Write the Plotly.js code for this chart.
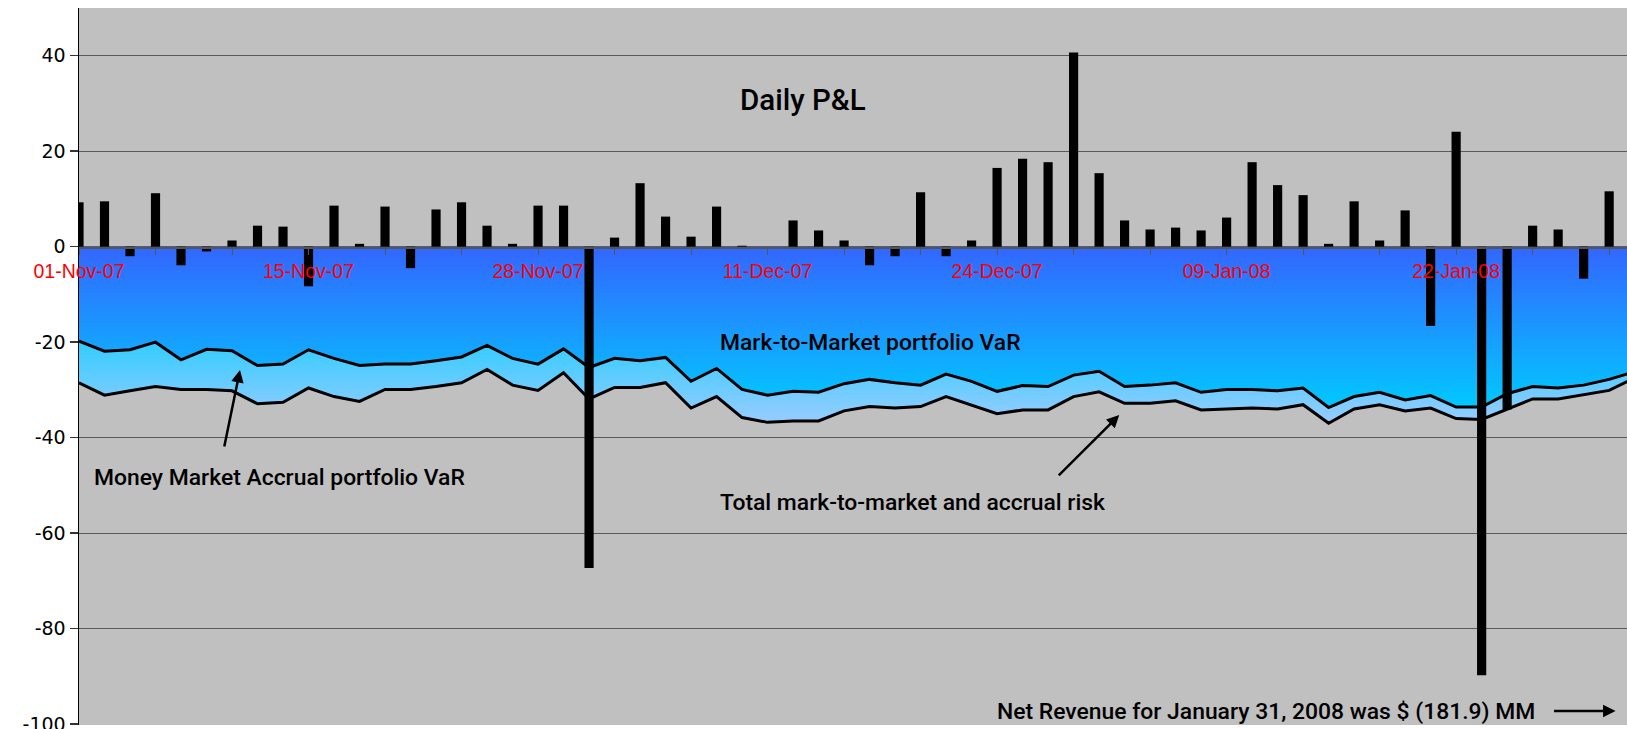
<!DOCTYPE html>
<html><head><meta charset="utf-8">
<script src="https://cdn.plot.ly/plotly-3.0.1.min.js"></script>
<style>html,body{margin:0;padding:0;background:#fff;overflow:hidden;} #chart{width:1627px;height:729px;}</style>
</head><body><div id="chart"></div>
<script>
const dates = [
 '01-Nov-07','02-Nov-07','05-Nov-07','06-Nov-07','07-Nov-07','08-Nov-07','09-Nov-07','13-Nov-07','14-Nov-07','15-Nov-07',
 '16-Nov-07','19-Nov-07','20-Nov-07','21-Nov-07','22-Nov-07','23-Nov-07','26-Nov-07','27-Nov-07','28-Nov-07','29-Nov-07',
 '30-Nov-07','03-Dec-07','04-Dec-07','05-Dec-07','06-Dec-07','07-Dec-07','10-Dec-07','11-Dec-07','12-Dec-07','13-Dec-07',
 '14-Dec-07','17-Dec-07','18-Dec-07','19-Dec-07','20-Dec-07','21-Dec-07','24-Dec-07','26-Dec-07','27-Dec-07','28-Dec-07',
 '02-Jan-08','03-Jan-08','04-Jan-08','07-Jan-08','08-Jan-08','09-Jan-08','10-Jan-08','11-Jan-08','14-Jan-08','15-Jan-08',
 '16-Jan-08','17-Jan-08','18-Jan-08','21-Jan-08','22-Jan-08','23-Jan-08','24-Jan-08','25-Jan-08','28-Jan-08','29-Jan-08',
 '30-Jan-08','31-Jan-08'
];
const dailyPL = [
 9.3, 9.5, -2.0, 11.2, -3.9, -1.0, 1.3, 4.4, 4.2, -8.3,
 8.6, 0.6, 8.4, -4.5, 7.8, 9.3, 4.4, 0.6, 8.6, 8.6,
 -67.3, 1.9, 13.3, 6.3, 2.1, 8.4, 0.2, 0, 5.5, 3.4,
 1.3, -3.9, -2.0, 11.4, -2.0, 1.3, 16.5, 18.4, 17.7, 40.7,
 15.4, 5.5, 3.6, 4.0, 3.4, 6.1, 17.7, 12.9, 10.8, 0.6,
 9.5, 1.3, 7.6, -16.6, 24.1, -89.8, -34.1, 4.4, 3.6, -6.7,
 11.6, -181.9
];
const mtmVaR = [
 -19.8, -21.9, -21.6, -20.0, -23.7, -21.5, -21.8, -24.9, -24.6, -21.6,
 -23.4, -24.9, -24.6, -24.6, -23.9, -23.1, -20.7, -23.4, -24.6, -21.4,
 -25.3, -23.4, -23.9, -23.2, -28.2, -25.5, -29.9, -31.1, -30.3, -30.5,
 -28.7, -27.8, -28.5, -29.0, -26.7, -28.2, -30.3, -29.1, -29.3, -26.9,
 -26.1, -29.3, -29.0, -28.5, -30.5, -29.9, -29.9, -30.2, -29.6, -33.7,
 -31.4, -30.5, -32.1, -31.2, -33.6, -33.6, -30.8, -29.3, -29.6, -29.0,
 -27.8, -26.2
];
const totalVaR = [
 -28.5, -31.1, -30.2, -29.3, -29.9, -29.9, -30.2, -32.9, -32.6, -29.6,
 -31.4, -32.4, -29.9, -29.9, -29.3, -28.5, -25.7, -29.0, -30.1, -26.4,
 -31.9, -29.5, -29.5, -28.5, -33.8, -31.4, -35.8, -36.8, -36.5, -36.5,
 -34.4, -33.5, -33.8, -33.5, -31.4, -33.2, -35.0, -34.2, -34.2, -31.4,
 -30.4, -32.8, -32.8, -32.3, -34.2, -34.0, -33.8, -34.0, -33.1, -37.0,
 -34.0, -33.1, -34.4, -33.8, -36.0, -36.2, -34.0, -31.9, -31.9, -31.0,
 -30.1, -27.5
];
const tickDates = ['01-Nov-07','06-Nov-07','09-Nov-07','15-Nov-07','20-Nov-07','23-Nov-07','28-Nov-07','03-Dec-07','06-Dec-07','11-Dec-07','14-Dec-07','19-Dec-07','24-Dec-07','28-Dec-07','04-Jan-08','09-Jan-08','14-Jan-08','17-Jan-08','22-Jan-08','25-Jan-08','30-Jan-08'];
const tickLabels = ['01-Nov-07','','','15-Nov-07','','','28-Nov-07','','','11-Dec-07','','','24-Dec-07','','','09-Jan-08','','','22-Jan-08','',''];
const yTickVals = [-100, -80, -60, -40, -20, 0, 20, 40];
const yTickText = ['-100', '-80', '-60', '-40', '-20', '0', '20', '40'];

const annFam = 'Roboto, Liberation Sans, Arial, sans-serif';
const annFont = {family:annFam, size:22.9, color:'#000', weight:500};

const traces = [
 {x:dates, y:mtmVaR, type:'scatter', mode:'lines', line:{color:'#000', width:3},
  fill:'tozeroy', fillgradient:{type:'vertical', start:-35, stop:0, colorscale:[[0,'#00CCFF'],[1,'#3366FF']]},
  hoverinfo:'skip', name:'Mark-to-Market portfolio VaR'},
 {x:dates, y:totalVaR, type:'scatter', mode:'lines', line:{color:'#000', width:3},
  fill:'tonexty', fillgradient:{type:'vertical', start:-37, stop:-20, colorscale:[[0,'#99CCFF'],[1,'#33CCFF']]},
  hoverinfo:'skip', name:'Total mark-to-market and accrual risk'},
 {x:dates, y:dailyPL, type:'bar', yaxis:'y2', marker:{color:'#000', line:{width:0}}, width:0.36, name:'Daily P&L', hoverinfo:'skip'}
];

function txt(t, x, y, font) {
 return {text:t, x:x, y:y, xref:'paper', yref:'paper', xanchor:'center', yanchor:'middle', showarrow:false, font:font};
}
function arrow(x, y, ax, ay) {
 return {text:'', x:x, y:y, xref:'paper', yref:'paper', showarrow:true, ax:ax, ay:ay, arrowhead:2, arrowsize:1, arrowwidth:2.5, arrowcolor:'#000', standoff:0};
}

const layout = {
 width:1627, height:729,
 margin:{l:79, r:0, t:8, b:4},
 paper_bgcolor:'#FFFFFF', plot_bgcolor:'#C0C0C0',
 showlegend:false,
 xaxis:{type:'category', range:[0,60.7], anchor:'free', position:2/3,
   tickmode:'array', tickvals:tickDates, ticktext:tickLabels,
   ticks:'outside', ticklen:6, tickcolor:'#555', tickwidth:1,
   showline:true, linecolor:'#555', linewidth:1.5, showgrid:false, zeroline:false,
   tickangle:0, tickfont:{family:'Liberation Sans, Arial, sans-serif', size:19.5, color:'#FF0000'},
   fixedrange:true, layer:'above traces'},
 yaxis:{range:[-100.2,50], tickmode:'array', tickvals:yTickVals, ticktext:yTickText,
   ticklabeloverflow:'allow',
   showgrid:true, gridcolor:'#5a5a5a', gridwidth:1,
   zeroline:false, showline:true, linecolor:'#000', linewidth:1.5,
   ticks:'outside', ticklen:8, tickcolor:'#333', tickwidth:1.5,
   tickfont:{family:'DejaVu Sans, sans-serif', size:19, color:'#000'}, fixedrange:true},
 yaxis2:{range:[-100.2,50], overlaying:'y', visible:false, fixedrange:true},
 annotations:[
  txt('Daily P&amp;L', 0.4675, 0.871, {family:annFam, size:29.5, color:'#000', weight:500}),
  txt('Mark-to-Market portfolio VaR', 0.511, 0.5328, annFont),
  txt('Money Market Accrual portfolio VaR', 0.1298, 0.3445, annFont),
  txt('Total mark-to-market and accrual risk', 0.5386, 0.311, annFont),
  txt('Net Revenue for January 31, 2008 was $ (181.9) MM', 0.7668, 0.0195, annFont),
  arrow(0.104, 0.4951, -16, 78),
  arrow(0.672, 0.4324, -62, 62),
  arrow(0.9926, 0.0195, -63, 0)
 ]
};

Plotly.newPlot('chart', traces, layout, {displayModeBar:false, staticPlot:true});
</script>
</body></html>
